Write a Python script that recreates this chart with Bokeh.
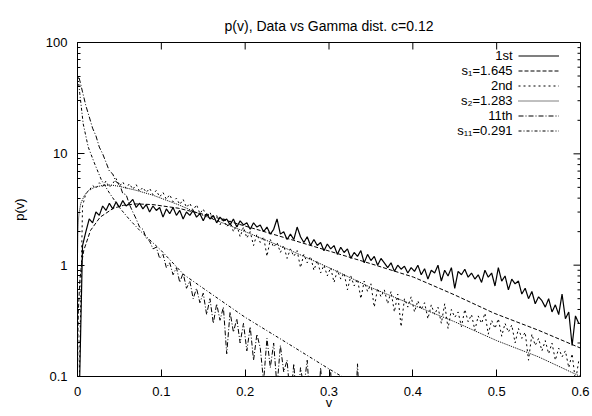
import math
import numpy as np
from bokeh.plotting import figure
from bokeh.models import Range1d, FixedTicker, Legend, LegendItem, Label
from bokeh.embed import file_html
from bokeh.resources import INLINE

# ---------------- texts ----------------
TITLE = "p(v), Data vs Gamma dist. c=0.12"
X_LABEL = "v"
Y_LABEL = "p(v)"
x_ticks = [0, 0.1, 0.2, 0.3, 0.4, 0.5, 0.6]
x_tick_labels = ["0", "0.1", "0.2", "0.3", "0.4", "0.5", "0.6"]
y_ticks = [0.1, 1, 10, 100]
y_tick_labels = ["0.1", "1", "10", "100"]
y_minor_ticks = [0.2, 0.3, 0.4, 0.5, 0.6, 0.7, 0.8, 0.9,
                 2, 3, 4, 5, 6, 7, 8, 9,
                 20, 30, 40, 50, 60, 70, 80, 90]
series_names = ["1st", "s\u2081=1.645", "2nd", "s\u2082=1.283", "11th", "s\u2081\u2081=0.291"]

# ---------------- data: histograms (bin centres 0.002, 0.006, ...) ----------------
bin_start = 0.002
bin_width = 0.004
p_1st = [0.06, 1.5, 2.0, 2.6, 2.4, 3.0, 2.8, 3.4, 3.1, 3.6,
         3.2, 3.7, 3.3, 3.8, 3.4, 3.6, 3.9, 3.3, 3.6, 3.2,
         3.5, 3.0, 3.4, 3.1, 3.3, 2.7, 3.2, 2.9, 3.3, 2.8,
         3.1, 2.6, 3.0, 2.8, 3.1, 2.7, 2.9, 2.5, 2.9, 2.6,
         2.8, 2.4, 2.7, 2.5, 2.6, 2.3, 2.6, 2.2, 2.5, 2.3,
         2.4, 2.1, 2.4, 2.2, 2.3, 2.0, 2.2, 1.9, 2.1, 2.6,
         1.9, 2.0, 1.7, 1.9, 1.7, 2.2, 1.8, 1.6, 1.8, 1.5,
         1.7, 1.5, 1.6, 1.35, 1.55, 1.4, 1.5, 1.25, 1.45, 1.3,
         1.4, 1.15, 1.3, 1.2, 1.35, 1.05, 1.25, 1.1, 1.2, 1.0,
         1.15, 1.05, 0.95, 1.05, 0.88, 1.0, 0.92, 0.98, 0.85, 0.95,
         0.88, 1.0, 0.82, 0.93, 0.75, 0.9, 0.85, 1.0, 0.72, 0.9,
         0.8, 0.95, 0.62, 0.88, 0.82, 0.92, 0.78, 0.85, 0.75, 0.82,
         0.7, 0.9, 0.78, 0.85, 0.65, 0.95, 0.72, 0.8, 0.6, 0.75,
         0.68, 0.72, 0.55, 0.62, 0.5, 0.58, 0.45, 0.52, 0.48, 0.42,
         0.5, 0.38, 0.44, 0.36, 0.55, 0.33, 0.38, 0.19, 0.35, 0.3]
p_2nd = [0.08, 3.4, 4.4, 4.7, 5.2, 4.9, 5.5, 5.1, 5.7, 5.0,
         5.4, 6.0, 5.1, 5.6, 4.9, 5.4, 4.8, 5.3, 4.6, 5.0,
         4.5, 4.9, 4.3, 4.7, 4.1, 4.5, 3.9, 4.3, 3.7, 4.0,
         3.5, 3.9, 3.3, 3.6, 3.1, 3.5, 2.9, 3.2, 2.7, 3.0,
         2.5, 2.8, 2.3, 2.7, 2.2, 2.5, 2.0, 2.3, 1.8, 2.2,
         1.75, 2.0, 1.5, 1.9, 1.6, 1.8, 1.2, 1.7, 1.45, 1.6,
         1.3, 1.5, 1.15, 1.4, 1.2, 1.35, 0.95, 1.25, 1.05, 1.2,
         0.9, 1.1, 0.85, 1.0, 0.8, 0.95, 0.7, 0.9, 0.75, 0.85,
         0.6, 0.8, 0.65, 0.75, 0.5, 0.72, 0.58, 0.68, 0.42, 0.62,
         0.52, 0.6, 0.45, 0.58, 0.38, 0.55, 0.28, 0.5, 0.42, 0.52,
         0.38, 0.48, 0.4, 0.46, 0.33, 0.44, 0.36, 0.42, 0.3, 0.45,
         0.27, 0.4, 0.34, 0.38, 0.28, 0.4, 0.31, 0.36, 0.26, 0.35,
         0.3, 0.37, 0.24, 0.32, 0.27, 0.33, 0.23, 0.3, 0.25, 0.29,
         0.2, 0.27, 0.22, 0.25, 0.14, 0.24, 0.19, 0.22, 0.17, 0.21,
         0.16, 0.2, 0.14, 0.18, 0.15, 0.17, 0.12, 0.16, 0.09, 0.14]
p_11th = [48, 36, 27, 21.5, 17, 14.5, 11.5, 10, 8.4, 7.0,
          6.6, 5.6, 5.4, 4.4, 4.3, 3.5, 3.0, 2.6, 2.2, 2.1,
          1.75, 1.65, 1.4, 1.45, 1.15, 1.25, 0.95, 1.05, 0.82, 0.95,
          0.7, 0.85, 0.62, 0.72, 0.5, 0.62, 0.46, 0.56, 0.36, 0.5,
          0.3, 0.45, 0.32, 0.42, 0.16, 0.38, 0.25, 0.33, 0.2, 0.3,
          0.17, 0.28, 0.14, 0.24, 0.18, 0.09, 0.22, 0.12, 0.2, 0.08,
          0.19, 0.11, 0.14, 0.06, 0.13, 0.05, 0.12, 0.08, 0.14, 0.05,
          0.07, 0.04, 0.12, 0.05, 0.08, 0.11, 0.04, 0.06, 0.03, 0.05,
          0.03, 0.04, 0.03, 0.13, 0.03, 0.02]

# ---------------- data: fitted Gamma curves ----------------
v_s1 = [0.0002, 0.0005, 0.001, 0.0027, 0.005, 0.0075, 0.0155, 0.027, 0.043, 0.055,
        0.07, 0.09, 0.12, 0.16, 0.218, 0.258, 0.3, 0.35, 0.401, 0.45, 0.497, 0.55, 0.6]
p_s1 = [0.12, 0.25, 0.38, 0.72, 1.05, 1.36, 2.05, 2.7, 3.25, 3.45,
        3.55, 3.5, 3.25, 2.75, 2.05, 1.67, 1.34, 1.03, 0.78, 0.54, 0.37, 0.26, 0.18]
v_s2 = [0.0001, 0.0005, 0.001, 0.002, 0.004, 0.008, 0.012, 0.02, 0.03, 0.04,
        0.05, 0.07, 0.09, 0.12, 0.15, 0.2, 0.25, 0.3, 0.35, 0.4, 0.45, 0.5, 0.55, 0.6]
p_s2 = [1.3, 2.0, 2.5, 3.0, 3.6, 4.2, 4.6, 5.0, 5.2, 5.25,
        5.1, 4.7, 4.25, 3.5, 2.8, 2.0, 1.4, 0.95, 0.63, 0.44, 0.31, 0.21, 0.15, 0.1]
v_s11 = [0.0005, 0.0027, 0.0068, 0.0128, 0.0206, 0.0286, 0.0385, 0.0505, 0.0624, 0.0743,
         0.0843, 0.1, 0.127, 0.15, 0.2, 0.25, 0.3, 0.35, 0.4]
p_s11 = [50, 35, 18.6, 11.5, 8.1, 5.8, 4.4, 3.26, 2.55, 2.05,
         1.74, 1.35, 0.82, 0.62, 0.34, 0.2, 0.117, 0.07, 0.042]

v_1st = np.round(bin_start + bin_width * np.arange(len(p_1st)), 4)
v_2nd = np.round(bin_start + bin_width * np.arange(len(p_2nd)), 4)
v_11th = np.round(bin_start + bin_width * np.arange(len(p_11th)), 4)

# ---------------- styling ----------------
FONT = "Liberation Sans"
FS = "13px"
W, H = 590, 414
X0, X1 = x_ticks[0], x_ticks[-1]
Y0, Y1 = y_ticks[0], y_ticks[-1]

p = figure(width=W, height=H, output_backend="svg", toolbar_location=None,
           y_axis_type="log", x_range=Range1d(X0, X1), y_range=Range1d(Y0, Y1),
           min_border_left=77, min_border_right=W - 580, min_border_top=42,
           min_border_bottom=H - 376)
p.background_fill_color = "white"
p.border_fill_color = "white"
p.outline_line_color = "black"
p.outline_line_width = 1
p.grid.visible = False

p.title.text = TITLE
p.title.align = "center"
p.title.text_font = FONT
p.title.text_font_size = "14px"
p.title.text_font_style = "normal"
p.title.text_color = "black"
p.title.standoff = 17

xt = FixedTicker(ticks=x_ticks, minor_ticks=[])
yt = FixedTicker(ticks=y_ticks, minor_ticks=y_minor_ticks)

def style_axis(ax, ticker, labels):
    ax.ticker = ticker
    ax.axis_line_color = "black"
    ax.major_tick_in = 7
    ax.major_tick_out = 0
    ax.minor_tick_in = 3
    ax.minor_tick_out = 0
    ax.major_tick_line_color = "black"
    ax.minor_tick_line_color = "black"
    ax.major_label_text_font = FONT
    ax.major_label_text_font_size = FS
    ax.major_label_text_color = "black"
    ax.axis_label_text_font = FONT
    ax.axis_label_text_font_size = FS
    ax.axis_label_text_font_style = "normal"
    ax.axis_label_text_color = "black"
    ax.major_label_overrides = labels

style_axis(p.xaxis[0], xt, {t: s for t, s in zip(x_ticks, x_tick_labels)})
p.xaxis[0].minor_tick_line_color = None
p.xaxis[0].major_label_standoff = 10
p.xaxis[0].axis_label = X_LABEL
p.xaxis[0].axis_label_standoff = -4

style_axis(p.yaxis[0], yt, {t: s for t, s in zip(y_ticks, y_tick_labels)})
p.yaxis[0].axis_label = Y_LABEL
p.yaxis[0].major_label_standoff = 10
p.yaxis[0].axis_label_standoff = 16

# mirrored inward ticks on the top and right frame edges (half of each dash is clipped)
p.scatter(x_ticks, [Y1] * len(x_ticks), marker="dash", angle=math.pi / 2, size=14,
          line_color="black", line_width=1)
p.scatter([X1] * len(y_ticks), y_ticks, marker="dash", size=14,
          line_color="black", line_width=1)
p.scatter([X1] * len(y_minor_ticks), y_minor_ticks, marker="dash", size=6,
          line_color="black", line_width=1)

# ---------------- curves ----------------
r_1st = p.line(v_1st, p_1st, line_color="black", line_width=1.2)
r_s1 = p.line(v_s1, p_s1, line_color="black", line_width=1, line_dash="4 2")
r_2nd = p.line(v_2nd, p_2nd, line_color="black", line_width=1, line_dash="2 3")
r_s2 = p.line(v_s2, p_s2, line_color="black", line_width=1, line_dash="1 1")
r_11th = p.line(v_11th, p_11th, line_color="black", line_width=1, line_dash="5 2 1 2")
r_s11 = p.line(v_s11, p_s11, line_color="black", line_width=1, line_dash="3 2 1 2")
renderers = [r_1st, r_s1, r_2nd, r_s2, r_11th, r_s11]

# ---------------- key (gnuplot style: text right-aligned, sample on the right) ----------------
legend = Legend(items=[LegendItem(label=" ", renderers=[r]) for r in renderers],
                location=(441, 238), orientation="vertical",
                glyph_width=41, glyph_height=15, label_height=15, label_width=1,
                label_standoff=0, spacing=0, padding=0, margin=0,
                border_line_color=None, background_fill_alpha=0,
                label_text_font=FONT, label_text_font_size=FS)
p.add_layout(legend)

key_text_x = 0.519
key_text_y = [76.6, 56.1, 41.1, 30.2, 22.1, 16.2]
for name, ky in zip(series_names, key_text_y):
    p.add_layout(Label(x=key_text_x, y=ky, text=name, text_align="right",
                       text_baseline="middle", text_font=FONT, text_font_size=FS,
                       text_color="black"))

open("out.html", "w").write(file_html(p, INLINE))
